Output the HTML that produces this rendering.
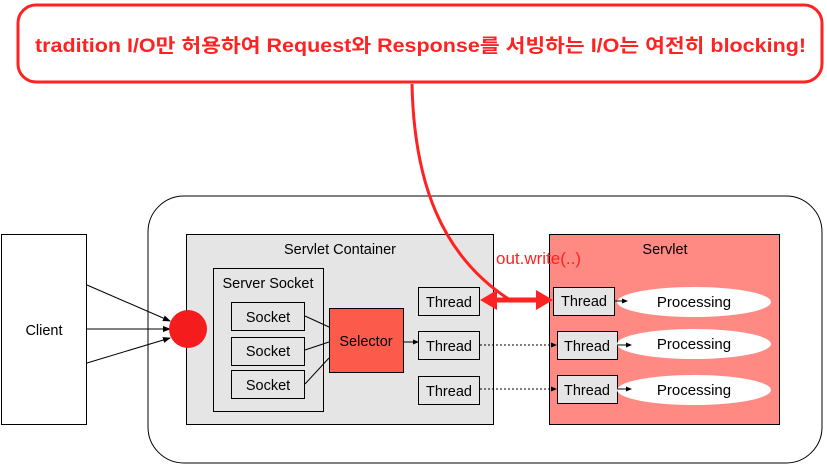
<!DOCTYPE html>
<html><head><meta charset="utf-8"><style>
html,body{margin:0;padding:0;background:#fff;}
svg{display:block;}
text{font-family:"Liberation Sans","Noto Sans CJK KR",sans-serif;}
</style></head><body>
<svg width="827" height="465" viewBox="0 0 827 465" xmlns="http://www.w3.org/2000/svg">
<defs>
<marker id="a" markerWidth="8" markerHeight="8" refX="7" refY="4" orient="auto" markerUnits="userSpaceOnUse"><path d="M0,1 L8,4 L0,7 z" fill="#000"/></marker>
<marker id="as" markerWidth="6" markerHeight="6" refX="5" refY="3" orient="auto" markerUnits="userSpaceOnUse"><path d="M0,0.5 L6,3 L0,5.5 z" fill="#000"/></marker>
</defs>
<!-- callout -->
<rect x="18" y="5" width="804" height="77" rx="18" fill="#fff" stroke="#f22" stroke-width="3"/>
<text x="35" y="52" font-size="19" font-weight="bold" fill="#f22" textLength="771" lengthAdjust="spacingAndGlyphs">tradition I/O만 허용하여 Request와 Response를 서빙하는 I/O는 여전히 blocking!</text>
<!-- outer -->
<rect x="148" y="196" width="674" height="267" rx="36" fill="#fff" stroke="#000" stroke-width="1"/>
<!-- client -->
<rect x="1.5" y="234.5" width="85" height="190" fill="#fff" stroke="#000"/>
<text x="44" y="335" font-size="14.5" text-anchor="middle">Client</text>
<line x1="87" y1="285" x2="170" y2="321" stroke="#000" marker-end="url(#a)"/>
<line x1="87" y1="329" x2="170" y2="329" stroke="#000" marker-end="url(#a)"/>
<line x1="87" y1="363" x2="170" y2="338" stroke="#000" marker-end="url(#a)"/>
<!-- container -->
<rect x="186.5" y="234.5" width="307" height="190" fill="#e5e5e5" stroke="#000"/>
<circle cx="188" cy="329" r="19" fill="#f41c1c"/>
<text x="340" y="254" font-size="14.5" text-anchor="middle">Servlet Container</text>
<rect x="213.5" y="268.5" width="110" height="143" fill="#e5e5e5" stroke="#000"/>
<text x="268" y="288" font-size="14.5" text-anchor="middle">Server Socket</text>
<rect x="231.5" y="302.5" width="73" height="28" fill="#e5e5e5" stroke="#000"/>
<rect x="231.5" y="337.5" width="73" height="28" fill="#e5e5e5" stroke="#000"/>
<rect x="231.5" y="370.5" width="73" height="28" fill="#e5e5e5" stroke="#000"/>
<text x="268" y="322" font-size="14.5" text-anchor="middle">Socket</text>
<text x="268" y="356" font-size="14.5" text-anchor="middle">Socket</text>
<text x="268" y="390" font-size="14.5" text-anchor="middle">Socket</text>
<line x1="305" y1="316" x2="329" y2="327" stroke="#000"/>
<line x1="305" y1="350" x2="329" y2="342" stroke="#000"/>
<line x1="305" y1="384" x2="329" y2="358" stroke="#000"/>
<rect x="329.5" y="308.5" width="74" height="64" fill="#fc5a4a" stroke="#000"/>
<text x="366" y="346" font-size="14.5" text-anchor="middle">Selector</text>
<line x1="403" y1="342" x2="418" y2="342" stroke="#000" marker-end="url(#as)"/>
<rect x="418.5" y="287.5" width="61" height="28" fill="#e5e5e5" stroke="#000"/>
<rect x="418.5" y="331.5" width="61" height="28" fill="#e5e5e5" stroke="#000"/>
<rect x="418.5" y="376.5" width="61" height="28" fill="#e5e5e5" stroke="#000"/>
<text x="449" y="307" font-size="14.5" text-anchor="middle">Thread</text>
<text x="449" y="351" font-size="14.5" text-anchor="middle">Thread</text>
<text x="449" y="396" font-size="14.5" text-anchor="middle">Thread</text>
<!-- servlet -->
<rect x="549.5" y="234.5" width="230" height="190" fill="#ff8a84" stroke="#000"/>
<text x="665" y="254" font-size="14.5" text-anchor="middle">Servlet</text>
<rect x="553.5" y="287.5" width="61" height="28" fill="#e5e5e5" stroke="#000"/>
<rect x="557.5" y="331.5" width="60" height="28" fill="#e5e5e5" stroke="#000"/>
<rect x="557.5" y="375.5" width="60" height="28" fill="#e5e5e5" stroke="#000"/>
<text x="584" y="306" font-size="14.5" text-anchor="middle">Thread</text>
<text x="587" y="351" font-size="14.5" text-anchor="middle">Thread</text>
<text x="587" y="395" font-size="14.5" text-anchor="middle">Thread</text>
<ellipse cx="694" cy="302" rx="77" ry="15" fill="#fff"/>
<ellipse cx="694" cy="344" rx="77" ry="15" fill="#fff"/>
<ellipse cx="694" cy="390" rx="77" ry="15" fill="#fff"/>
<text x="694" y="307" font-size="15" text-anchor="middle">Processing</text>
<text x="694" y="349" font-size="15" text-anchor="middle">Processing</text>
<text x="694" y="395" font-size="15" text-anchor="middle">Processing</text>
<line x1="614" y1="301" x2="627" y2="301" stroke="#000" marker-end="url(#as)"/>
<line x1="617" y1="345" x2="631" y2="345" stroke="#000" marker-end="url(#as)"/>
<line x1="617" y1="389" x2="631" y2="389" stroke="#000" marker-end="url(#as)"/>
<line x1="480" y1="345" x2="556" y2="345" stroke="#000" stroke-dasharray="2,2" marker-end="url(#as)"/>
<line x1="480" y1="389" x2="556" y2="389" stroke="#000" stroke-dasharray="2,2" marker-end="url(#as)"/>
<!-- red curve -->
<path d="M412,84 C414,180 440,255 510,300" fill="none" stroke="#f22" stroke-width="3"/>
<line x1="492" y1="300" x2="540" y2="300" stroke="#f22" stroke-width="5"/>
<path d="M480,300 L497,290 L497,310 z" fill="#f22"/>
<path d="M553,300 L536,290 L536,310 z" fill="#f22"/>
<text x="496" y="264" font-size="17" fill="#f22">out.write(..)</text>
</svg>
</body></html>
